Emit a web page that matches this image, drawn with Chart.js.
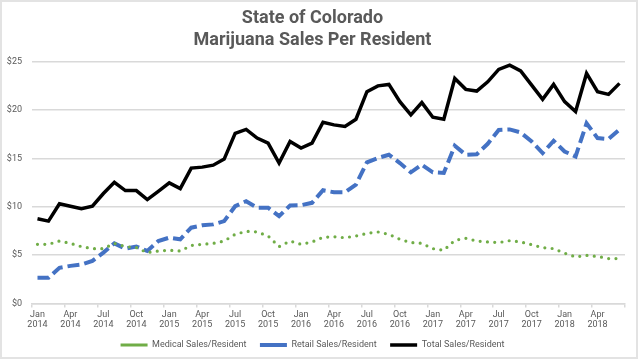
<!DOCTYPE html>
<html>
<head>
<meta charset="utf-8">
<title>State of Colorado - Marijuana Sales Per Resident</title>
<script src="https://cdn.jsdelivr.net/npm/chart.js@4.4.1/dist/chart.umd.min.js"></script>
<style>
  html, body { margin: 0; padding: 0; background: #fff; }
  #wrap { position: relative; width: 640px; height: 360px; }
  #frame { position: absolute; left: 0; top: 0; width: 634px; height: 355px; border: 2px solid #e3e3e3; pointer-events: none; }
</style>
</head>
<body>
<div id="wrap">
  <canvas id="grafico" width="640" height="360"></canvas>
  <div id="frame"></div>
</div>
<script>
// --- DATA ---
const months = [
  "Jan 2014", "Feb 2014", "Mar 2014", "Apr 2014", "May 2014", "Jun 2014", "Jul 2014", "Aug 2014", "Sep 2014", "Oct 2014", "Nov 2014", "Dec 2014",
  "Jan 2015", "Feb 2015", "Mar 2015", "Apr 2015", "May 2015", "Jun 2015", "Jul 2015", "Aug 2015", "Sep 2015", "Oct 2015", "Nov 2015", "Dec 2015",
  "Jan 2016", "Feb 2016", "Mar 2016", "Apr 2016", "May 2016", "Jun 2016", "Jul 2016", "Aug 2016", "Sep 2016", "Oct 2016", "Nov 2016", "Dec 2016",
  "Jan 2017", "Feb 2017", "Mar 2017", "Apr 2017", "May 2017", "Jun 2017", "Jul 2017", "Aug 2017", "Sep 2017", "Oct 2017", "Nov 2017", "Dec 2017",
  "Jan 2018", "Feb 2018", "Mar 2018", "Apr 2018", "May 2018", "Jun 2018"
];

const medical = [
  6.12, 6.12, 6.46, 6.22, 5.88, 5.67, 5.67, 6.22, 5.88, 5.78, 5.26, 5.43,
  5.50, 5.43, 6.00, 6.12, 6.22, 6.46, 7.15, 7.46, 7.40, 6.98, 5.88, 6.46,
  6.12, 6.36, 6.84, 6.90, 6.80, 6.98, 7.25, 7.40, 7.15, 6.64, 6.30, 6.22,
  5.67, 5.50, 6.53, 6.74, 6.46, 6.36, 6.30, 6.50, 6.36, 6.08, 5.78, 5.67,
  5.20, 4.82, 4.98, 4.86, 4.65, 4.65
];

const retail = [
  2.66, 2.66, 3.69, 3.89, 4.03, 4.41, 5.26, 6.22, 5.67, 5.88, 5.43, 6.46,
  6.81, 6.64, 7.84, 8.08, 8.18, 8.52, 10.06, 10.58, 9.90, 9.90, 9.03, 10.13,
  10.16, 10.41, 11.71, 11.50, 11.50, 12.30, 14.59, 15.04, 15.38, 14.52, 13.56, 14.35,
  13.56, 13.50, 16.31, 15.38, 15.43, 16.51, 17.95, 18.00, 17.68, 16.75, 15.55, 16.82,
  15.72, 15.20, 18.64, 17.10, 17.00, 18.00
];

const total = [
  8.77, 8.52, 10.31, 10.06, 9.79, 10.06, 11.37, 12.53, 11.68, 11.68, 10.75, 11.60,
  12.47, 11.88, 14.00, 14.10, 14.30, 14.93, 17.60, 18.00, 17.10, 16.58, 14.52, 16.75,
  16.07, 16.58, 18.74, 18.47, 18.30, 19.05, 21.90, 22.50, 22.65, 20.87, 19.50, 20.77,
  19.26, 19.05, 23.27, 22.14, 21.96, 22.92, 24.20, 24.64, 24.05, 22.58, 21.11, 22.65,
  20.87, 19.84, 23.79, 21.90, 21.62, 22.76
];

const titleLines = ["State of Colorado", "Marijuana Sales Per Resident"];

// --- STYLE ---
const TEXT = "#595959";
const GRID = "#d9d9d9";
Chart.defaults.font.family = "Roboto";
Chart.defaults.color = TEXT;

// legend items: default labels, with a bit of extra room after each text
function legendLabels(c) {
  const items = Chart.defaults.plugins.legend.labels.generateLabels(c);
  items.forEach((it, i) => { if (i < items.length - 1) it.text += "  "; });
  return items;
}

// --- CHART ---
const chart = new Chart(document.getElementById("grafico"), {
  type: "line",
  data: {
    labels: months,
    datasets: [
      { label: "Medical Sales/Resident", data: medical, borderColor: "#70ad47", backgroundColor: "#70ad47", borderWidth: 3.2, borderDash: [0, 7.3], borderCapStyle: "round" },
      { label: "Retail Sales/Resident", data: retail, borderColor: "#4472c4", backgroundColor: "#4472c4", borderWidth: 4, borderDash: [12, 5] },
      { label: "Total Sales/Resident", data: total, borderColor: "#000000", backgroundColor: "#000000", borderWidth: 3.5 }
    ]
  },
  options: {
    responsive: false,
    animation: false,
    elements: { point: { radius: 0 }, line: { tension: 0 } },
    layout: { padding: { left: 0, right: 15, top: 0, bottom: 0.5 } },
    plugins: {
      title: {
        display: true,
        text: titleLines,
        color: TEXT,
        font: { size: 18, weight: "bold", lineHeight: "22px" },
        padding: { top: 7, bottom: 10.7 }
      },
      legend: {
        position: "bottom",
        labels: {
          usePointStyle: true,
          pointStyle: "line",
          pointStyleWidth: 27,
          padding: 9,
          color: TEXT,
          font: { size: 9 },
          generateLabels: legendLabels
        }
      },
      tooltip: { enabled: false }
    },
    scales: {
      x: {
        offset: true,
        grid: {
          offset: true,
          drawOnChartArea: false,
          tickLength: 4,
          lineWidth: 1.5,
          color: ctx => (ctx.index === undefined || ctx.index % 3 === 0) ? GRID : "rgba(0,0,0,0)"
        },
        border: { color: GRID, width: 1.5 },
        ticks: {
          autoSkip: false,
          maxRotation: 0,
          padding: 2,
          font: { size: 9, lineHeight: "10px" },
          callback: (v, i) => i % 3 === 0 ? months[i].split(" ") : ""
        },
        afterFit: s => { s.height = 28; }
      },
      y: {
        min: 0,
        max: 25,
        ticks: { stepSize: 5, padding: 10, font: { size: 9 }, callback: v => "$" + v },
        grid: { color: GRID, lineWidth: 1.5, drawTicks: false },
        border: { display: false },
        afterFit: s => { s.width = 32; }
      }
    }
  }
});
</script>
</body>
</html>
